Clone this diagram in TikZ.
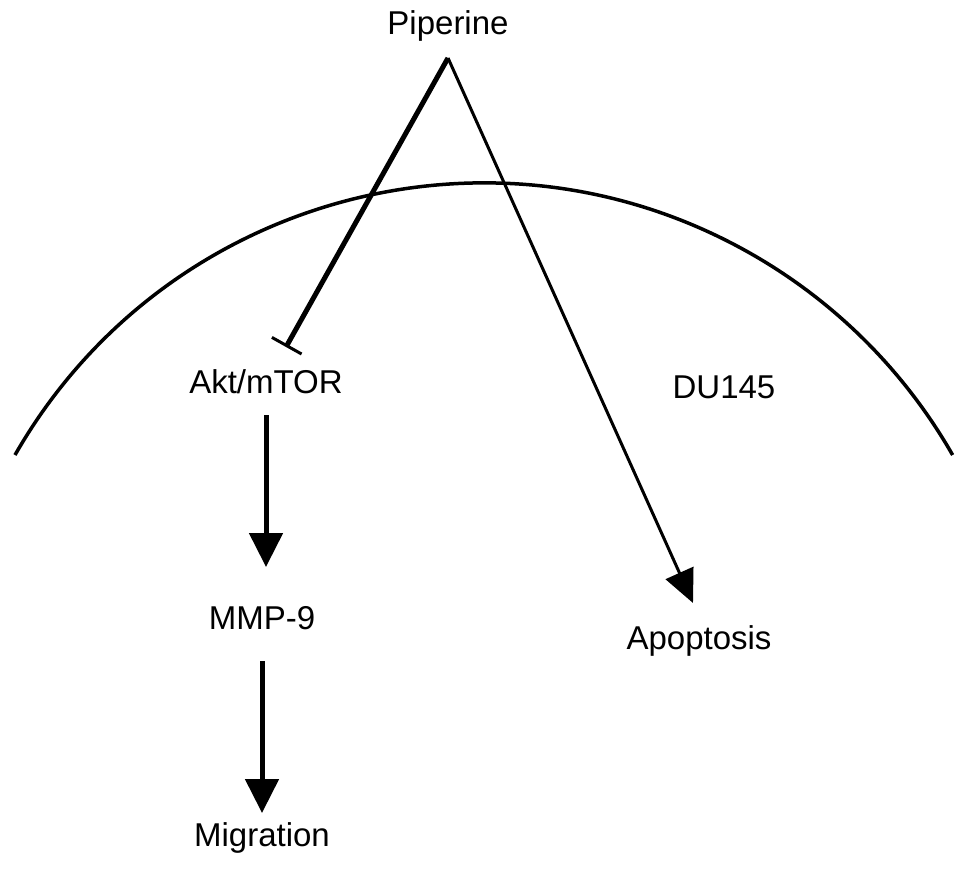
\documentclass[tikz,border=0pt]{standalone}
\usepackage{fontspec}
\setmainfont{Liberation Sans}
\usetikzlibrary{arrows.meta}
\begin{document}
\begin{tikzpicture}[x=1pt,y=-1pt,
  lbl/.style={anchor=base,inner sep=0pt,font=\fontsize{33}{38}\selectfont},
  inhib/.style={line width=5pt,-{Bar[width=34pt,line width=3pt]}},
  thinarrow/.style={line width=3pt,-{Triangle[width=30pt,length=33pt]}},
  thickarrow/.style={line width=5pt,-{Triangle[width=33pt,length=34pt]}},
  membrane/.style={line width=3.5pt}]
\useasboundingbox (0,0) rectangle (969,869);
\fill[white] (0,0) rectangle (969,869);
% labels
\node[lbl] (pip) at (448,35) {Piperine};
\node[lbl] (akt) at (266,393) {Akt/mTOR};
\node[lbl] (du) at (724,398) {DU145};
\node[lbl] (mmp) at (262,629) {MMP-9};
\node[lbl] (apo) at (699,649) {Apoptosis};
\node[lbl] (mig) at (262,846) {Migration};
% coordinates
\coordinate (apex) at (448,58);
\coordinate (aktIn) at (286,347);
\coordinate (apoIn) at (693,603);
\coordinate (arcL) at (15,455);
\coordinate (a1s) at (266,415);
\coordinate (a1e) at (266,567);
\coordinate (a2s) at (262,661);
\coordinate (a2e) at (262,813);
% membrane
\draw[membrane] (arcL) arc[start angle=150.25,end angle=29.75,radius=540pt];
% connectors
\draw[inhib] (apex) -- (aktIn);
\draw[thinarrow] (apex) -- (apoIn);
\draw[thickarrow] (a1s) -- (a1e);
\draw[thickarrow] (a2s) -- (a2e);
\end{tikzpicture}
\end{document}
